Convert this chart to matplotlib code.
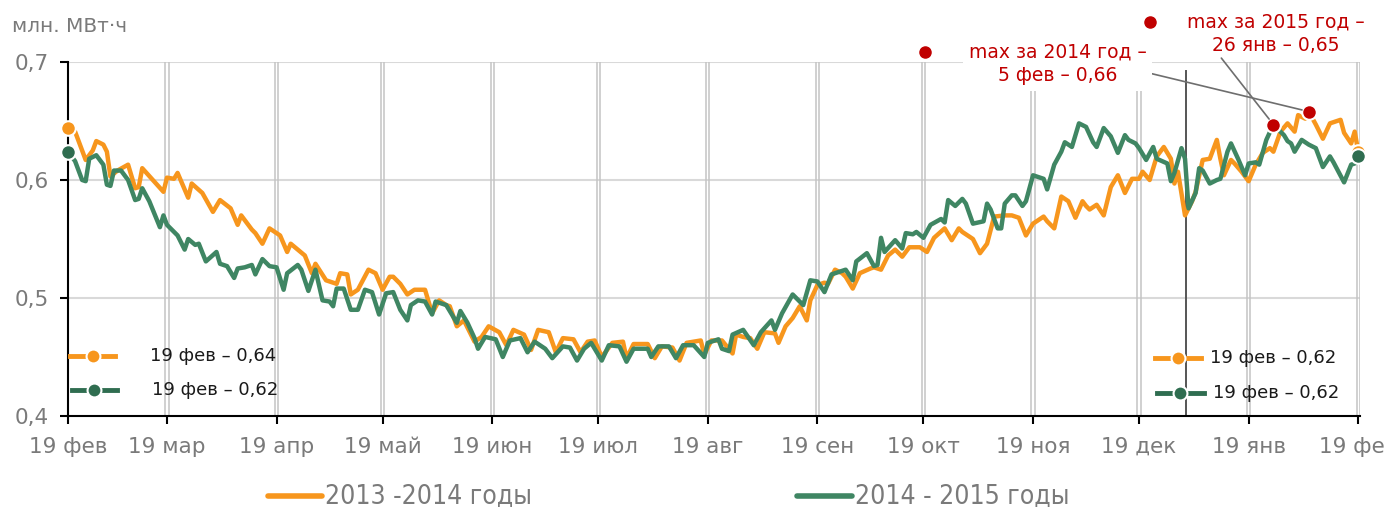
import matplotlib
matplotlib.use("Agg")
import matplotlib.pyplot as plt
from matplotlib.lines import Line2D

plt.rcParams['font.family'] = ['DejaVu Sans']

# --- data: day offset from 19 Feb, value in mln MWh ---
days_13 = [0, 2, 5, 7, 8, 10, 11, 12, 14, 17, 19, 20, 21, 24, 27, 28, 30, 31, 34, 35,
           38, 41, 43, 46, 48, 49, 52, 53, 55, 57, 60, 62, 63, 67, 69, 70, 73, 76, 77, 79,
           80, 82, 85, 87, 89, 91, 92, 94, 96, 98, 101, 103, 105, 107, 108, 110, 112, 115, 117, 119,
           122, 124, 126, 129, 131, 133, 136, 138, 140, 143, 145, 147, 149, 151, 154, 157, 158, 160, 164, 166,
           168, 171, 173, 175, 179, 180, 182, 185, 188, 189, 191, 193, 195, 197, 200, 201, 203, 205, 207, 209,
           210, 212, 214, 215, 217, 219, 220, 222, 224, 227, 228, 230, 232, 234, 236, 238, 241, 243, 245, 248,
           250, 252, 253, 256, 258, 260, 262, 265, 267, 269, 271, 273, 276, 277, 279, 281, 283, 285, 287, 288,
           289, 291, 293, 295, 297, 299, 301, 303, 304, 306, 308, 310, 312, 313, 314, 316, 318, 319, 321, 323,
           325, 326, 327, 329, 330, 332, 334, 336, 338, 340, 341, 343, 345, 347, 348, 350, 351, 353, 355, 357,
           360, 361, 363, 364, 365]
vals_13 = [.644, .641, .617, .625, .633, .630, .624, .603, .608, .613, .593, .594, .610, .600, .590, .602, .601, .606, .585, .597,
           .589, .573, .583, .576, .562, .570, .558, .555, .546, .559, .553, .539, .546, .536, .521, .529, .515, .512, .521, .520,
           .503, .507, .524, .521, .507, .518, .518, .512, .503, .507, .507, .487, .498, .494, .493, .476, .481, .463, .467, .476,
           .471, .460, .473, .469, .456, .473, .471, .454, .466, .465, .454, .463, .464, .450, .462, .463, .449, .461, .461, .449,
           .459, .458, .447, .462, .464, .452, .464, .464, .453, .469, .467, .466, .457, .471, .470, .462, .476, .483, .493, .481,
           .498, .511, .513, .512, .524, .521, .518, .508, .521, .525, .526, .524, .536, .541, .535, .543, .543, .539, .551, .559,
           .549, .559, .556, .550, .538, .546, .569, .570, .570, .568, .553, .563, .569, .565, .559, .586, .582, .568, .582, .578,
           .575, .579, .570, .594, .604, .589, .601, .601, .607, .600, .620, .628, .618, .597, .607, .570, .582, .590, .617, .618,
           .634, .618, .604, .617, .614, .607, .599, .613, .623, .627, .624, .641, .648, .641, .655, .652, .658, .647, .635, .648,
           .651, .640, .631, .641, .624]

days_14 = [0, 2, 4, 5, 6, 8, 10, 11, 12, 13, 15, 17, 19, 20, 21, 23, 26, 27, 28, 31,
           33, 34, 36, 37, 39, 42, 43, 45, 47, 48, 50, 52, 53, 55, 57, 59, 61, 62, 65, 66,
           68, 70, 72, 74, 75, 76, 78, 80, 82, 84, 86, 88, 90, 92, 94, 96, 97, 99, 101, 103,
           104, 107, 110, 111, 113, 115, 116, 118, 121, 123, 125, 128, 130, 132, 135, 137, 140, 142, 144, 146,
           148, 151, 153, 156, 158, 160, 164, 165, 167, 170, 172, 174, 177, 180, 181, 184, 185, 187, 188, 191,
           194, 196, 199, 200, 202, 205, 208, 210, 212, 214, 216, 220, 222, 223, 226, 228, 229, 230, 231, 234,
           236, 237, 239, 240, 242, 244, 247, 248, 249, 251, 253, 254, 256, 259, 260, 261, 263, 264, 265, 267,
           268, 270, 271, 273, 276, 277, 279, 281, 282, 284, 286, 288, 290, 291, 293, 295, 297, 299, 300, 302,
           303, 305, 307, 308, 311, 312, 313, 315, 316, 317, 319, 320, 321, 323, 325, 326, 328, 329, 331, 333,
           334, 336, 337, 339, 341, 344, 345, 346, 347, 349, 351, 353, 355, 357, 358, 361, 363, 364, 365]
vals_14 = [.624, .616, .600, .599, .618, .621, .613, .596, .595, .608, .608, .600, .583, .584, .593, .582, .560, .570, .562, .553,
           .541, .550, .545, .546, .531, .539, .529, .527, .517, .525, .526, .528, .520, .533, .527, .526, .507, .521, .528, .524,
           .506, .524, .498, .497, .493, .508, .508, .490, .490, .507, .505, .486, .504, .505, .490, .481, .494, .498, .497, .486,
           .497, .494, .479, .489, .479, .466, .457, .467, .465, .450, .464, .466, .454, .463, .457, .449, .459, .458, .447, .457,
           .462, .447, .460, .459, .446, .457, .457, .450, .459, .459, .449, .460, .460, .450, .462, .465, .457, .455, .469, .473,
           .460, .471, .481, .473, .487, .503, .494, .515, .514, .505, .520, .524, .515, .531, .538, .527, .528, .551, .539, .549,
           .542, .555, .554, .556, .551, .562, .567, .564, .583, .578, .584, .580, .563, .565, .580, .575, .559, .559, .580, .587,
           .587, .578, .582, .604, .601, .592, .613, .624, .632, .628, .648, .645, .632, .628, .644, .637, .623, .638, .634, .631,
           .627, .617, .628, .618, .614, .599, .606, .627, .618, .576, .589, .610, .608, .597, .600, .601, .624, .631, .618, .604,
           .614, .615, .613, .634, .647, .638, .633, .631, .624, .634, .630, .627, .611, .620, .615, .598, .613, .614, .620]

month_days = [0, 28, 59, 89, 120, 150, 181, 212, 242, 273, 303, 334, 365]
month_labels = ['19 фев', '19 мар', '19 апр', '19 май', '19 июн', '19 июл', '19 авг',
                '19 сен', '19 окт', '19 ноя', '19 дек', '19 янв', '19 фев']
new_year_day = 316
max_text_13 = 'max за 2014 год –\n5 фев – 0,66'
max_text_14 = 'max за 2015 год –\n26 янв – 0,65'
series_names = ['2013 -2014 годы', '2014 - 2015 годы']

orange = '#f7961d'
green = '#3f8663'
green_dark = '#2f6d50'
red = '#c00000'
gray = '#7a7a7a'

fig = plt.figure(figsize=(13.84, 5.07), dpi=100)
ax = fig.add_axes([68 / 1384, 1 - 416 / 507, 1292 / 1384, 354 / 507])

# grid
for v in [0.5, 0.6, 0.7]:
    ax.axhline(v, color='#d9d9d9', lw=1.5, zorder=0)
for d in month_days[1:]:
    ax.axvline(d - 0.45, color='#c4c4c4', lw=1.1, zorder=0)
    ax.axvline(d + 0.45, color='#c4c4c4', lw=1.1, zorder=0)
ax.axvline(new_year_day + 0.3, ymin=0, ymax=0.975, color='#555555', lw=1.4, zorder=1)

# series
ax.plot(days_13, vals_13, color=orange, lw=3.2, solid_joinstyle='round', zorder=3)
ax.plot(days_14, vals_14, color=green, lw=3.2, solid_joinstyle='round', zorder=4)

# start / end markers
ax.plot([days_13[0], days_13[-1]], [vals_13[0], vals_13[-1]], 'o', color=orange,
        ms=10.5, mec='white', mew=1.5, zorder=5, clip_on=False)
ax.plot([days_14[0], days_14[-1]], [vals_14[0], vals_14[-1]], 'o', color=green_dark,
        ms=10.5, mec='white', mew=1.5, zorder=6, clip_on=False)

# maxima (last year of each series)
def last_max(days, vals, start):
    idx = max((i for i in range(len(days)) if days[i] >= start), key=lambda i: vals[i])
    return days[idx], vals[idx]

mx13 = last_max(days_13, vals_13, 300)
mx14 = last_max(days_14, vals_14, 316)
ax.plot(*mx13, 'o', color=red, ms=10.5, mec='white', mew=1.5, zorder=7)
ax.plot(*mx14, 'o', color=red, ms=10.5, mec='white', mew=1.5, zorder=7)

ax.annotate(max_text_13, xy=mx13, xytext=(0.766, 0.995), textcoords='axes fraction',
            ha='center', va='center', color=red, fontsize=13.5, linespacing=1.35, zorder=8,
            bbox=dict(boxstyle='square,pad=0.3', fc='white', ec='none'),
            arrowprops=dict(arrowstyle='-', color='#6e6e6e', lw=1.2, shrinkA=0, shrinkB=5,
                            relpos=(1.0, 0.3)),
            annotation_clip=False)
ax.annotate(max_text_14, xy=mx14, xytext=(0.935, 1.080), textcoords='axes fraction',
            ha='center', va='center', color=red, fontsize=13.5, linespacing=1.35, zorder=8,
            arrowprops=dict(arrowstyle='-', color='#6e6e6e', lw=1.2, shrinkA=0, shrinkB=5,
                            relpos=(0.18, 0.0)),
            annotation_clip=False)
ax.plot([0.6633], [1.028], 'o', color=red, ms=8, transform=ax.transAxes, clip_on=False, zorder=8)
ax.plot([0.8375], [1.113], 'o', color=red, ms=8, transform=ax.transAxes, clip_on=False, zorder=8)

# small in-plot value keys
def fmt(v):
    return f'19 фев – {v:.2f}'.replace('.', ',')

keys = [
    (0.0015, 0.0365, 0.169, 0.0635, orange, vals_13[0]),
    (0.003, 0.038, 0.073, 0.065, green_dark, vals_14[0]),
    (0.841, 0.877, 0.164, 0.884, orange, vals_13[-1]),
    (0.843, 0.879, 0.065, 0.886, green_dark, vals_14[-1]),
]
for x0, x1, y, tx, c, v in keys:
    ax.plot([x0, x1], [y, y], color=c, lw=3.5, transform=ax.transAxes, clip_on=False, zorder=5)
    ax.plot([(x0 + x1) / 2], [y], 'o', color=c, ms=10, mec='white', mew=1.5,
            transform=ax.transAxes, clip_on=False, zorder=6)
    ax.text(tx, y, fmt(v), transform=ax.transAxes, va='center', ha='left',
            fontsize=13, color='#1a1a1a', zorder=6)

# axes styling
ax.set_xlim(0, 365.5)
ax.set_ylim(0.4, 0.7)
ax.set_xticks(month_days)
ax.set_xticklabels(month_labels)
ax.set_yticks([0.4, 0.5, 0.6, 0.7])
ax.set_yticklabels(['0,4', '0,5', '0,6', '0,7'])
ax.tick_params(axis='both', direction='out', length=6, width=1.5, color='black',
               labelcolor=gray, labelsize=15.5)
ax.tick_params(axis='x', pad=9)
ax.tick_params(axis='y', pad=8)
for s in ['top', 'right']:
    ax.spines[s].set_visible(False)
for s in ['left', 'bottom']:
    ax.spines[s].set_linewidth(1.5)
    ax.spines[s].set_color('black')

fig.text(12 / 1384, 1 - 27 / 507, 'млн. МВт·ч', color=gray, fontsize=14.5, va='center', ha='left')

# bottom legend
for (lx0, lx1, tx), c, name in zip([(268, 322, 325), (797, 852, 855)], [orange, green], series_names):
    fig.lines.append(Line2D([lx0 / 1384, lx1 / 1384], [1 - 496 / 507] * 2, color=c, lw=4,
                            solid_capstyle='round', transform=fig.transFigure))
    fig.text(tx / 1384, 1 - 496 / 507, name, color=gray, fontsize=19, va='center', ha='left',
             fontstretch='condensed')

fig.savefig('out.png', dpi=100, facecolor='white')
